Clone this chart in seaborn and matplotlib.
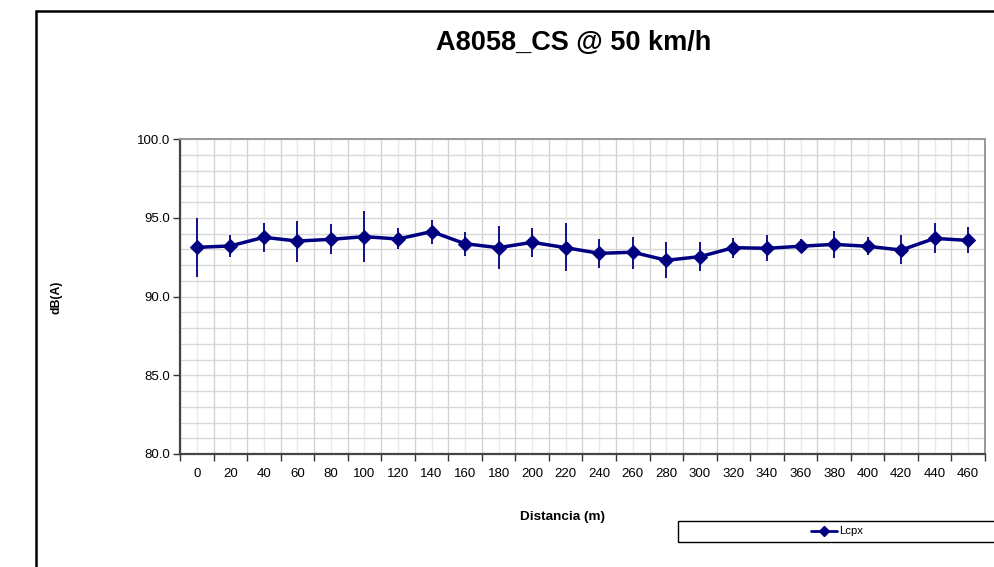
import matplotlib
matplotlib.use("Agg")
import matplotlib.pyplot as plt
import seaborn as sns
import numpy as np
import pandas as pd
from matplotlib.lines import Line2D
from matplotlib.patches import Rectangle

# ---- data ----
distances = [0, 20, 40, 60, 80, 100, 120, 140, 160, 180, 200, 220,
             240, 260, 280, 300, 320, 340, 360, 380, 400, 420, 440, 460]
lcpx = [93.12, 93.21, 93.76, 93.52, 93.63, 93.80, 93.65, 94.12, 93.35, 93.10, 93.44, 93.10,
        92.74, 92.81, 92.30, 92.53, 93.10, 93.06, 93.19, 93.31, 93.19, 92.95, 93.69, 93.56]
err_high = [94.97, 93.90, 94.69, 94.79, 94.60, 95.41, 94.33, 94.86, 94.08, 94.48, 94.37, 94.65,
            93.63, 93.80, 93.46, 93.48, 93.73, 93.90, 93.63, 94.18, 93.76, 93.90, 94.65, 94.39]
err_low = [91.26, 92.53, 92.81, 92.21, 92.70, 92.21, 93.00, 93.33, 92.57, 91.75, 92.49, 91.62,
           91.83, 91.77, 91.15, 91.62, 92.46, 92.25, 92.85, 92.42, 92.61, 92.06, 92.78, 92.74]
series_name = "Lcpx"
title = "A8058_CS @ 50 km/h"
x_label = "Distancia (m)"
y_label = "dB(A)"

df = pd.DataFrame({"idx": np.arange(len(distances)), "val": lcpx})

sns.set_theme(style="white")
plt.rcParams["font.family"] = ["Liberation Sans", "DejaVu Sans"]
plt.rcParams["text.color"] = "black"
plt.rcParams["xtick.color"] = "black"
plt.rcParams["ytick.color"] = "black"
plt.rcParams["xtick.labelcolor"] = "black"
plt.rcParams["ytick.labelcolor"] = "black"

W, H = 995, 567
fig = plt.figure(figsize=(W / 100, H / 100), dpi=100)
ax = fig.add_axes([180 / W, 1 - 454 / H, (985 - 180) / W, (454 - 139) / H])

navy = "#000080"
n = len(distances)

# grid
for b in np.arange(-0.5, n, 1.0):
    ax.axvline(b, color="#d2d2d2", lw=1.0, zorder=0)
for c in np.arange(0, n):
    ax.axvline(c, color="#eaeaea", lw=1.0, zorder=0)
for yv in range(80, 101):
    ax.axhline(yv, color="#d8d8d8", lw=1.0, zorder=0)

vals = np.array(lcpx)
yerr = np.vstack([vals - np.array(err_low), np.array(err_high) - vals])
ax.errorbar(df["idx"], vals, yerr=yerr, fmt="none", ecolor=navy, elinewidth=1.3,
            capsize=0, zorder=2)
sns.lineplot(data=df, x="idx", y="val", ax=ax, color=navy, lw=2.5, marker="D",
             markersize=7, markeredgecolor=navy, label=series_name, zorder=3, legend=False)

ax.set_xlim(-0.5, n - 0.5)
ax.set_ylim(80, 100)
ax.set_xticks(np.arange(-0.5, n, 1.0))
ax.set_xticklabels([])
ax.set_xticks(np.arange(n), minor=True)
ax.set_xticklabels([str(d) for d in distances], minor=True, fontsize=9.5)
ax.tick_params(axis="x", which="major", direction="out", length=5, width=1, color="#333333", bottom=True)
ax.tick_params(axis="x", which="minor", length=0, pad=10)
ax.set_yticks([80, 85, 90, 95, 100])
ax.set_yticklabels([f"{v:.1f}" for v in [80, 85, 90, 95, 100]], fontsize=9.5)
ax.tick_params(axis="y", direction="out", length=5, width=1, color="#333333", left=True, pad=2)
ax.set_xlabel("")
ax.set_ylabel("")

for s in ["left", "bottom"]:
    ax.spines[s].set_color("#444444")
    ax.spines[s].set_linewidth(1.6)
for s in ["top", "right"]:
    ax.spines[s].set_color("#999999")
    ax.spines[s].set_linewidth(1.4)

fig.text(573.5 / W, 1 - 43 / H, title, ha="center", va="center", fontsize=19.5,
         fontweight="bold", color="black")
fig.text(563 / W, 1 - 517 / H, x_label, ha="center", va="center", fontsize=9.7,
         fontweight="bold", color="black")
fig.text(57 / W, 1 - 297 / H, y_label, ha="center", va="center", fontsize=8.8,
         fontweight="bold", rotation=90, color="black")

# outer chart frame
fig.add_artist(Line2D([36 / W, 36 / W], [1 - 11 / H, -0.02], transform=fig.transFigure,
                      color="black", lw=1.8))
fig.add_artist(Line2D([36 / W, 1.02], [1 - 11 / H, 1 - 11 / H], transform=fig.transFigure,
                      color="black", lw=1.8))

# legend box
fig.add_artist(Rectangle((678 / W, 1 - 542 / H), (W - 678 + 2) / W, 21 / H,
                         transform=fig.transFigure, fill=False, edgecolor="black", lw=1.0))
handle = Line2D([], [], color=navy, lw=2.0, marker="D", markersize=5)
fig.legend([handle], [series_name], loc="center", bbox_to_anchor=(837 / W, 1 - 531.5 / H),
           frameon=False, fontsize=8.2, handlelength=2.3, handletextpad=0.2, borderpad=0,
           labelcolor="black")

fig.savefig("out.png", dpi=100)
